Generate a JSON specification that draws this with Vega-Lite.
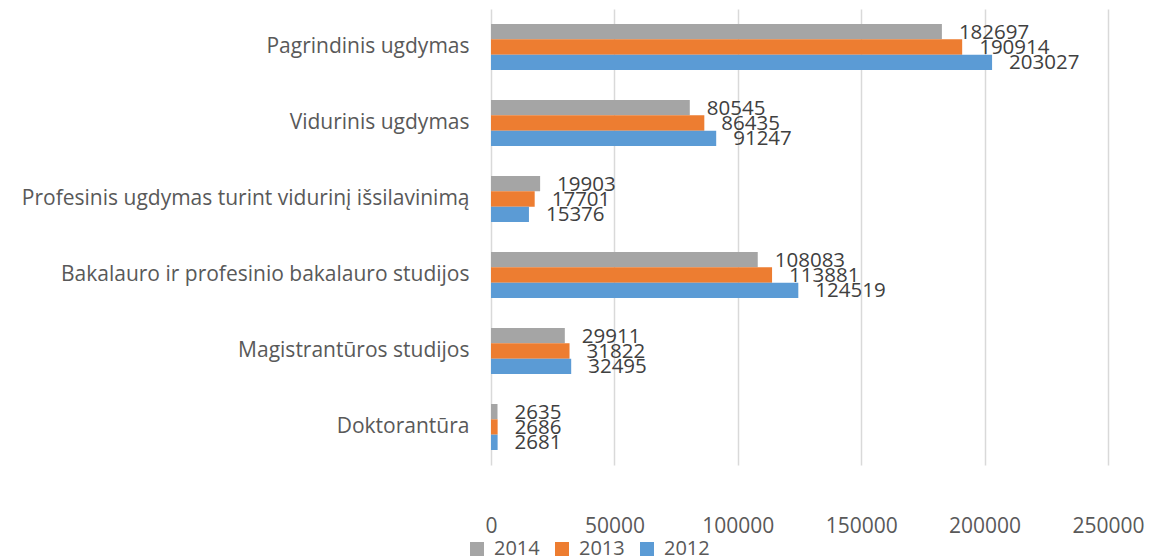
{
  "$schema": "https://vega.github.io/schema/vega-lite/v6.json",
  "width": 617,
  "height": 456,
  "autosize": {"type": "none"},
  "padding": {"left": 491, "top": 9, "right": 53, "bottom": 95},
  "background": "white",
  "config": {
    "font": "Open Sans",
    "view": {"stroke": null},
    "axis": {"labelColor": "#595959", "labelFont": "Open Sans", "labelFontSize": 21},
    "legend": {"labelColor": "#595959", "labelFont": "Open Sans", "labelFontSize": 20}
  },
  "data": {
    "values": [
      {"cat": "Pagrindinis ugdymas", "year": "2014", "value": 182697},
      {"cat": "Pagrindinis ugdymas", "year": "2013", "value": 190914},
      {"cat": "Pagrindinis ugdymas", "year": "2012", "value": 203027},
      {"cat": "Vidurinis ugdymas", "year": "2014", "value": 80545},
      {"cat": "Vidurinis ugdymas", "year": "2013", "value": 86435},
      {"cat": "Vidurinis ugdymas", "year": "2012", "value": 91247},
      {"cat": "Profesinis ugdymas turint vidurinį išsilavinimą", "year": "2014", "value": 19903},
      {"cat": "Profesinis ugdymas turint vidurinį išsilavinimą", "year": "2013", "value": 17701},
      {"cat": "Profesinis ugdymas turint vidurinį išsilavinimą", "year": "2012", "value": 15376},
      {"cat": "Bakalauro ir profesinio bakalauro studijos", "year": "2014", "value": 108083},
      {"cat": "Bakalauro ir profesinio bakalauro studijos", "year": "2013", "value": 113881},
      {"cat": "Bakalauro ir profesinio bakalauro studijos", "year": "2012", "value": 124519},
      {"cat": "Magistrantūros studijos", "year": "2014", "value": 29911},
      {"cat": "Magistrantūros studijos", "year": "2013", "value": 31822},
      {"cat": "Magistrantūros studijos", "year": "2012", "value": 32495},
      {"cat": "Doktorantūra", "year": "2014", "value": 2635},
      {"cat": "Doktorantūra", "year": "2013", "value": 2686},
      {"cat": "Doktorantūra", "year": "2012", "value": 2681}
    ]
  },
  "encoding": {
    "y": {
      "field": "cat", "type": "nominal", "sort": null, "title": null,
      "scale": {"paddingInner": 0.395, "paddingOuter": 0.1975},
      "axis": {"domain": false, "ticks": false, "labelPadding": 22, "labelLimit": 500}
    },
    "yOffset": {"field": "year", "type": "nominal", "sort": ["2014", "2013", "2012"]},
    "x": {
      "field": "value", "type": "quantitative", "title": null,
      "scale": {"domain": [0, 250000], "nice": false},
      "axis": {"values": [0, 50000, 100000, 150000, 200000, 250000], "domain": false, "ticks": false, "gridColor": "#D9D9D9", "gridWidth": 1.5, "labelPadding": 50, "labelFlush": false, "labelOverlap": false, "format": "d"}
    }
  },
  "layer": [
    {
      "mark": {"type": "bar"},
      "encoding": {
        "color": {
          "field": "year", "type": "nominal", "sort": ["2014", "2013", "2012"],
          "scale": {"domain": ["2014", "2013", "2012"], "range": ["#A5A5A5", "#ED7D31", "#5B9BD5"]},
          "legend": {"orient": "none", "legendX": -24, "legendY": 530, "direction": "horizontal", "title": null, "symbolType": "square", "symbolSize": 196, "symbolStrokeWidth": 0, "labelOffset": 7, "columnPadding": 12}
        }
      }
    },
    {
      "mark": {"type": "text", "align": "left", "baseline": "middle", "dx": 17, "dy": 1, "fontSize": 20.5, "color": "#404040"},
      "encoding": {"text": {"field": "value", "type": "quantitative", "format": "d"}}
    }
  ]
}
